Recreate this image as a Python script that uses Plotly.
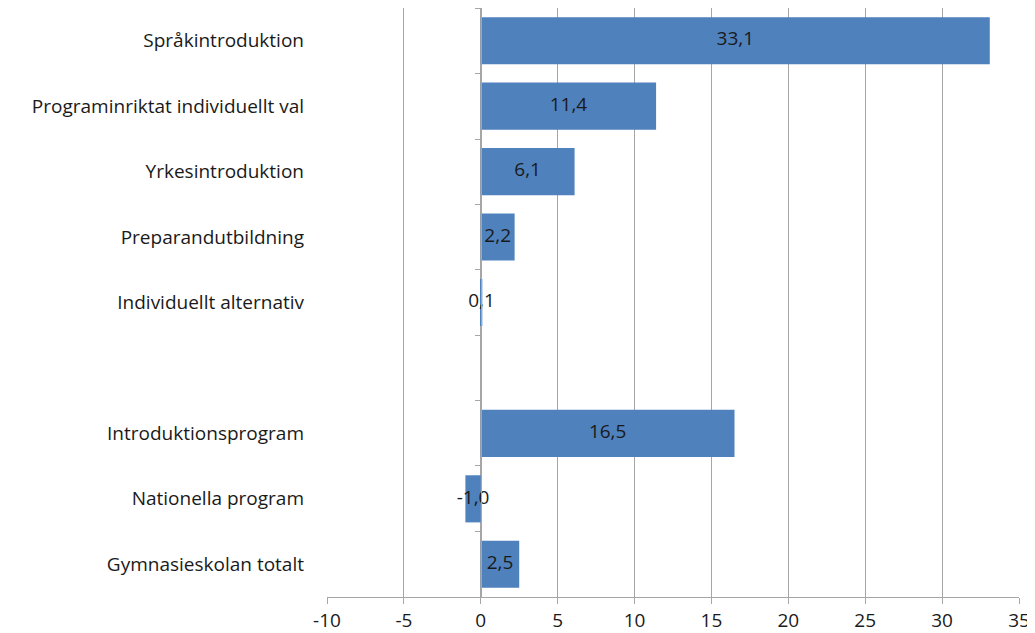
import plotly.graph_objects as go

# Data
CATEGORIES = [
    "Språkintroduktion",
    "Programinriktat individuellt val",
    "Yrkesintroduktion",
    "Preparandutbildning",
    "Individuellt alternativ",
    " ",
    "Introduktionsprogram",
    "Nationella program",
    "Gymnasieskolan totalt",
]
VALUES = [33.1, 11.4, 6.1, 2.2, 0.1, None, 16.5, -1.0, 2.5]
X_TICKS = [-10, -5, 0, 5, 10, 15, 20, 25, 30, 35]
X_TICK_TEXT = ["-10", "-5", "0", "5", "10", "15", "20", "25", "30", "35"]

BAR = "#4F81BD"
GRID = "#A6A6A6"
INK = "#1a1a1a"
FONT = "'Open Sans', sans-serif"
SIZE = 19

labels = ["" if v is None else f"{v:.1f}".replace(".", ",") for v in VALUES]
mids = [None if v is None else v / 2 for v in VALUES]

fig = go.Figure()
fig.add_trace(go.Bar(
    x=VALUES, y=CATEGORIES, orientation="h",
    marker=dict(color=BAR, line=dict(width=0)),
    width=0.72, hoverinfo="skip",
))
fig.add_trace(go.Scatter(
    x=mids, y=CATEGORIES, mode="text", text=labels,
    textfont=dict(family=FONT, size=SIZE, color=INK),
    textposition="middle center", hoverinfo="skip",
))
# invisible trace to carry the zero-crossing category axis
fig.add_trace(go.Scatter(
    x=[0] * len(CATEGORIES), y=CATEGORIES, yaxis="y2",
    mode="markers", marker=dict(opacity=0), hoverinfo="skip",
))

# page body adds an 8px margin, so the figure is shrunk / shifted to compensate
fig.update_layout(
    width=1027, height=625,
    margin=dict(l=319, r=16, t=0, b=36),
    paper_bgcolor="white", plot_bgcolor="white",
    showlegend=False,
    font=dict(family=FONT, size=SIZE, color=INK),
    xaxis=dict(
        range=[-10, 35], tickvals=X_TICKS, ticktext=X_TICK_TEXT,
        showgrid=True, gridcolor=GRID, gridwidth=1,
        showline=True, linecolor=GRID, linewidth=1,
        ticks="outside", ticklen=6, tickcolor=GRID,
        zeroline=False, tickfont=dict(size=SIZE, color=INK),
    ),
    yaxis=dict(
        categoryorder="array", categoryarray=CATEGORIES,
        autorange="reversed", showgrid=False, showline=False,
        ticks="", tickfont=dict(size=SIZE, color=INK), ticklabelstandoff=22,
    ),
    yaxis2=dict(
        overlaying="y", anchor="free", position=10 / 45,
        categoryorder="array", categoryarray=CATEGORIES,
        autorange="reversed", showgrid=False, showticklabels=False,
        showline=True, linecolor=GRID, linewidth=1,
        ticks="outside", ticklen=6, tickcolor=GRID, tickson="boundaries",
    ),
)

fig.write_html("out.html")
